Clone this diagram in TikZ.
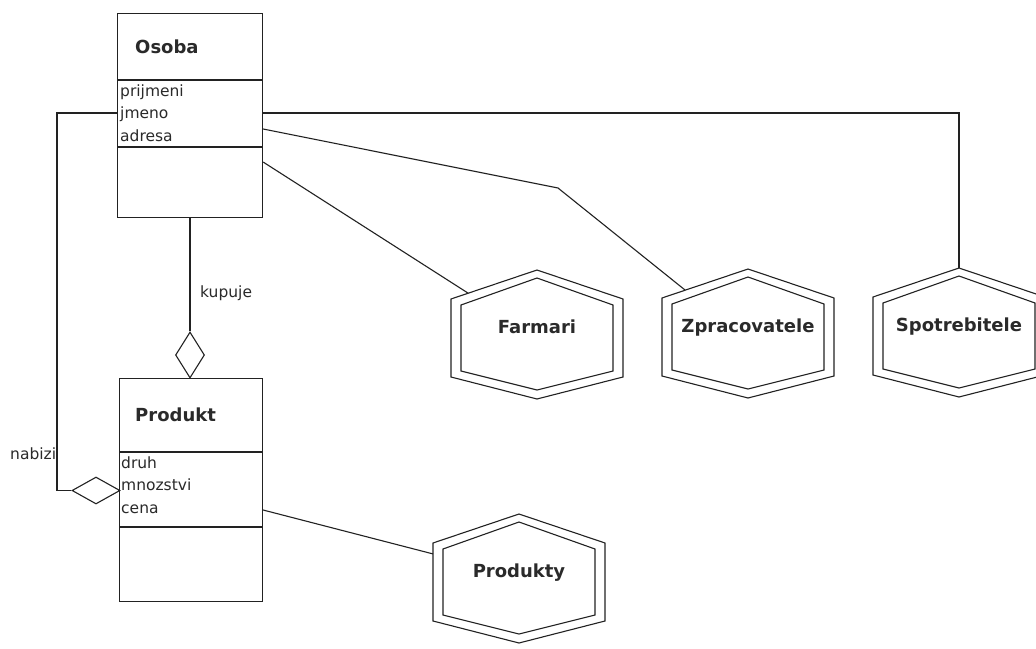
\documentclass[tikz,border=0pt]{standalone}
\usepackage{fontspec}
\setmainfont{DejaVu Sans}
\usetikzlibrary{shapes.geometric,calc}
\definecolor{ink}{HTML}{222222}
\definecolor{txt}{HTML}{2A2A2A}

% entity hexagon: name, centre x, top y, label
\newcommand\hexentity[4]{%
  \coordinate (#1-top) at (#2,#3);
  \coordinate (#1-ur) at (#2+86,#3+29);
  \coordinate (#1-lr) at (#2+86,#3+107);
  \coordinate (#1-bot) at (#2,#3+129);
  \coordinate (#1-ll) at (#2-86,#3+107);
  \coordinate (#1-ul) at (#2-86,#3+29);
  \draw[conn] (#1-top) -- (#1-ur) -- (#1-lr) -- (#1-bot) -- (#1-ll) -- (#1-ul) -- cycle;
  \draw[conn] (#2,#3+8) -- (#2+76,#3+35) -- (#2+76,#3+101) -- (#2,#3+120)
              -- (#2-76,#3+101) -- (#2-76,#3+35) -- cycle;
  \node[entlabel] (#1) at (#2,#3+63) {#4};
}

\begin{document}
\begin{tikzpicture}[x=1pt,y=-1pt,
  conn/.style={draw=ink,line width=1.1pt,line join=miter},
  classbox/.style={draw=ink,line width=1.1pt,inner sep=0pt,anchor=north west},
  cname/.style={anchor=base west,inner sep=0pt,text=txt,font=\fontsize{18}{20}\selectfont\bfseries},
  entlabel/.style={anchor=base,inner sep=0pt,text=txt,font=\fontsize{18}{20}\selectfont\bfseries},
  attr/.style={anchor=base west,inner sep=0pt,text=txt,font=\fontsize{15.5}{18}\selectfont},
  rolelabel/.style={anchor=base west,inner sep=0pt,text=txt,font=\fontsize{15.5}{18}\selectfont},
  agg/.style={diamond,draw=ink,line width=1.1pt,fill=white,inner sep=0pt}]
\useasboundingbox[fill=white] (0,0) rectangle (1036,648);

% class Osoba
\node[classbox,minimum width=145pt,minimum height=204pt] (osoba) at (117,13) {};
\draw[conn] ($(osoba.north west)+(0,67)$) -- ($(osoba.north east)+(0,67)$);
\draw[conn] ($(osoba.north west)+(0,134)$) -- ($(osoba.north east)+(0,134)$);
\node[cname] (osobaname) at (135,53) {Osoba};
\node[attr] (prijmeni) at (120,96) {prijmeni};
\node[attr] (jmeno) at (120,118.5) {jmeno};
\node[attr] (adresa) at (120,141) {adresa};

% class Produkt
\node[classbox,minimum width=143pt,minimum height=223pt] (produkt) at (119,378) {};
\draw[conn] ($(produkt.north west)+(0,74)$) -- ($(produkt.north east)+(0,74)$);
\draw[conn] ($(produkt.north west)+(0,149)$) -- ($(produkt.north east)+(0,149)$);
\node[cname] (produktname) at (135,421) {Produkt};
\node[attr] (druh) at (121,468) {druh};
\node[attr] (mnozstvi) at (121,490.5) {mnozstvi};
\node[attr] (cena) at (121,513) {cena};

% entity hexagons
\hexentity{farm}{537}{270}{Farmari}
\hexentity{zprac}{748}{269}{Zpracovatele}
\hexentity{spot}{959}{268}{Spotrebitele}
\hexentity{prods}{519}{514}{Produkty}

% aggregation: Osoba kupuje Produkt
\node[agg,minimum width=29pt,minimum height=46pt] (aggbuy) at (190,355) {};
\draw[conn] (osoba.south -| aggbuy.north) -- (aggbuy.north);
\node[rolelabel] (kupuje) at (200,297.5) {kupuje};

% aggregation: Osoba nabizi Produkt
\node[agg,minimum width=48pt,minimum height=27pt] (aggoffer) at (96,490.5) {};
\draw[conn] ($(osoba.north west)+(0,100)$) -- ++(-60,0) |- (aggoffer.west);
\node[rolelabel] (nabizi) at (10,459) {nabizi};

% links from Osoba to the entities
\coordinate (zbend) at (558,188);
\draw[conn] ($(osoba.north east)+(0,100)$) -| (spot-top);
\draw[conn] ($(osoba.north east)+(0,116)$) -- (zbend) -- ($(zprac-ul)!0.27!(zprac-top)$);
\draw[conn] ($(osoba.north east)+(0,149)$) -- ($(farm-ul)!0.2!(farm-top)$);

% link from Produkt to Produkty
\draw[conn] ($(produkt.north east)+(0,132)$) -- ($(prods-ul)!0.14!(prods-ll)$);
\end{tikzpicture}
\end{document}
